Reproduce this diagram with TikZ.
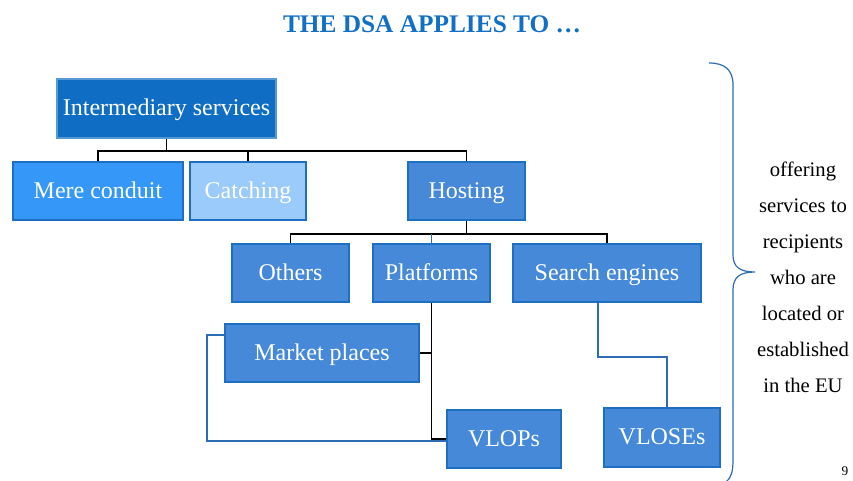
\documentclass[tikz,border=0pt]{standalone}
\usepackage{fontspec}
\setmainfont{Liberation Serif}
\usetikzlibrary{calc}
\definecolor{cdark}{HTML}{0F6EC3}
\definecolor{cmid}{HTML}{3598F8}
\definecolor{clight}{HTML}{9ACBFA}
\definecolor{cbox}{HTML}{4589D8}
\definecolor{cborder}{HTML}{1E6FC4}
\definecolor{cline}{HTML}{2E6DB4}
\definecolor{ctitle}{HTML}{1170C4}
\tikzset{
  box/.style={draw=cborder, line width=1.5pt, fill=cbox, text=white, minimum height=43.5pt, inner sep=0pt,
    text height=12pt, text depth=1pt, font=\fontsize{18}{20}\selectfont},
  blk/.style={draw=black, line width=1.1pt},
  bl/.style={draw=cline, line width=0.8pt},
}
\begin{document}
\begin{tikzpicture}[x=0.75pt,y=-0.75pt]
\clip (0,0) rectangle (853,481);
\fill[white] (0,0) rectangle (853,481);
\node[font=\fontsize{19}{22}\selectfont\bfseries, text=ctitle] (title) at (432,24) {THE DSA APPLIES TO …};
\node[box, fill=cdark, draw=cdark!70!white, minimum width=164.25pt, minimum height=44.25pt] (inter) at (166.5,108.5) {Intermediary services};
\node[box, fill=cmid, minimum width=127.5pt] (mere) at (98,191) {Mere conduit};
\node[box, fill=clight, minimum width=87pt] (catch) at (248,191) {Catching};
\node[box, minimum width=87.75pt] (host) at (466.5,191) {Hosting};
\node[box, minimum width=87.75pt] (others) at (290.5,273) {Others};
\node[box, minimum width=87.75pt] (plat) at (431.5,273) {Platforms};
\node[box, minimum width=141pt] (search) at (607,273) {Search engines};
\node[box, minimum width=145.5pt] (market) at (322,353) {Market places};
\node[box, minimum width=85.5pt] (vlops) at (504,439) {VLOPs};
\node[box, minimum width=87pt, minimum height=44.25pt] (vloses) at (662,437.5) {VLOSEs};
% level 1 connectors
\draw[blk] (inter.south) -- ++(0,12) coordinate (j1);
\draw[blk] (j1) -| (mere.north);
\draw[blk] (j1) -| (catch.north);
\draw[blk] (j1) -| (host.north);
% level 2 connectors
\draw[blk] (host.south) -- ++(0,13) coordinate (j2);
\draw[blk] (j2) -| (others.north);
\draw[blk] (j2) -| (search.north);
\draw[bl] (plat.north) -- (plat.north |- j2);
% platforms
\draw[blk] (plat.south) |- (vlops.west);
\draw[blk] (plat.south |- market.east) -- (market.east);
\draw[bl] ($(market.north west)+(0,12)$) -- ++(-17,0) |- ($(vlops.west)+(0,2)$);
% search engines
\draw[bl] ($(search.south)+(-9,0)$) -- ++(0,54) -| ($(vloses.north)+(5,0)$);
% brace
\draw[cline, line width=0.9pt] (709,63) .. controls (725,63) and (733,70) .. (733,85) -- (733,255)
  .. controls (733,267) and (740,272) .. (755,272) .. controls (740,272) and (733,277) .. (733,290)
  -- (733,460) .. controls (733,472) and (731,478) .. (726,482);
\node[align=center, font=\fontsize{15.5}{27}\selectfont, inner sep=0pt] (side) at (803,277)
  {offering\\services to\\recipients\\who are\\located or\\established\\in the EU};
\node[anchor=north, inner sep=0pt, font=\fontsize{10}{12}\selectfont] (pg) at (845,466) {9};
\end{tikzpicture}
\end{document}
